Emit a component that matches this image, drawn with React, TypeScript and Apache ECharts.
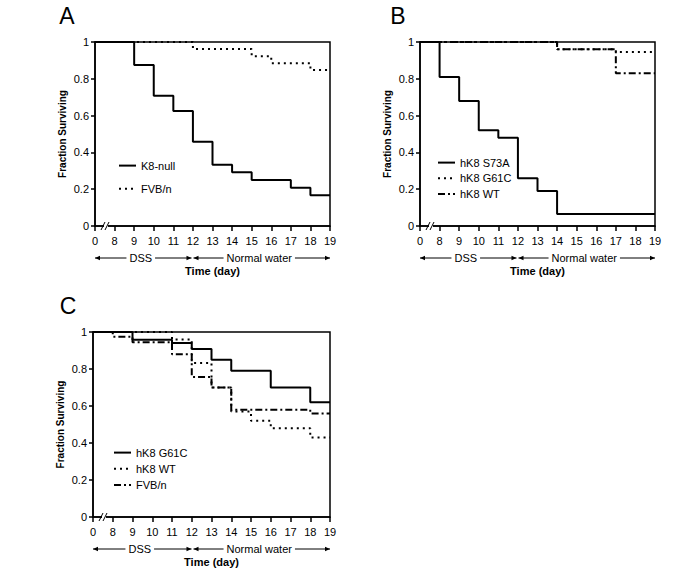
import React, { useEffect, useRef } from 'react';
import * as echarts from 'echarts';

const dayLabels = ['0', '8', '9', '10', '11', '12', '13', '14', '15', '16', '17', '18', '19'];

// Panel A
const aK8NullDays = ['0', '9', '10', '11', '12', '13', '14', '15', '17', '18', '19'];
const aK8NullSurv = [1, 0.875, 0.708, 0.625, 0.458, 0.333, 0.292, 0.25, 0.208, 0.167, 0.167];
const aFvbDays = ['0', '12', '15', '16', '18', '19'];
const aFvbSurv = [1, 0.962, 0.923, 0.885, 0.848, 0.848];

// Panel B
const bS73aDays = ['0', '8', '9', '10', '11', '12', '13', '14', '19'];
const bS73aSurv = [1, 0.81, 0.68, 0.52, 0.48, 0.26, 0.19, 0.065, 0.065];
const bG61cDays = ['0', '14', '17', '19'];
const bG61cSurv = [1, 0.96, 0.945, 0.945];
const bWtDays = ['0', '14', '17', '19'];
const bWtSurv = [1, 0.96, 0.83, 0.83];

// Panel C
const cG61cDays = ['0', '9', '11', '12', '13', '14', '16', '18', '19'];
const cG61cSurv = [1, 0.958, 0.94, 0.908, 0.85, 0.79, 0.7, 0.62, 0.62];
const cWtDays = ['0', '11', '12', '13', '14', '15', '16', '18', '19'];
const cWtSurv = [1, 0.96, 0.833, 0.7, 0.57, 0.52, 0.48, 0.43, 0.43];
const cFvbDays = ['0', '8', '9', '11', '12', '13', '14', '18', '19'];
const cFvbSurv = [1, 0.975, 0.944, 0.88, 0.757, 0.7, 0.58, 0.56, 0.56];

const FONT = '"Liberation Sans", Arial, sans-serif';
const DOT: number[] = [2, 4];
const DASHDOT: number[] = [7, 3, 2, 3];

const grids = [
  { left: 95, top: 42, width: 235, height: 184 },
  { left: 420, top: 42, width: 235, height: 184 },
  { left: 93, top: 332, width: 237, height: 185 },
];

function pairs(days: string[], surv: number[]) {
  return days.map((d, i) => [d, surv[i]]);
}

function km(name: string, idx: number, days: string[], surv: number[], type: any) {
  return {
    type: 'line',
    name,
    xAxisIndex: idx,
    yAxisIndex: idx,
    step: 'end',
    symbol: 'none',
    data: pairs(days, surv),
    lineStyle: { color: '#000', width: 2, type },
    itemStyle: { color: '#000' },
    z: 3,
  };
}

function arrowRow(x0: number, x12: number, x19: number, y: number) {
  const els: any[] = [];
  const line = (a: number, b: number) => ({
    type: 'line', z: 100,
    shape: { x1: a, y1: y, x2: b, y2: y },
    style: { stroke: '#000', lineWidth: 1 },
  });
  const head = (tip: number, dir: number) => ({
    type: 'polygon', z: 100,
    shape: { points: [[tip, y], [tip - dir * 5, y - 2.2], [tip - dir * 5, y + 2.2]] },
    style: { fill: '#000' },
  });
  const label = (text: string, cx: number) => ({
    type: 'text', z: 101,
    x: cx, y,
    style: {
      text, fill: '#000', font: `11px ${FONT}`, align: 'center', verticalAlign: 'middle',
      backgroundColor: '#fff', padding: [0, 3],
    },
  });
  els.push(line(x0, x12 - 1));
  els.push(line(x12 + 1, x19));
  els.push(head(x0, -1));
  els.push(head(x12 - 1, 1));
  els.push(head(x12 + 1, -1));
  els.push(head(x19, 1));
  els.push(label('DSS', (x0 + x12) / 2 - 3));
  els.push(label('Normal water', (x12 + x19) / 2 - 2));
  return els;
}

function axisBreak(x: number, y: number) {
  return [
    { type: 'rect', z: 100, shape: { x: x + 1, y: y - 2, width: 4, height: 4 }, style: { fill: '#fff' } },
    { type: 'line', z: 101, shape: { x1: x - 2, y1: y + 4, x2: x + 2, y2: y - 4 }, style: { stroke: '#000', lineWidth: 1 } },
    { type: 'line', z: 101, shape: { x1: x + 2, y1: y + 4, x2: x + 6, y2: y - 4 }, style: { stroke: '#000', lineWidth: 1 } },
  ];
}

function panelLetter(text: string, x: number, y: number) {
  return {
    type: 'text', z: 100, x, y,
    style: { text, fill: '#000', font: `23px ${FONT}`, align: 'center', verticalAlign: 'middle' },
  };
}

export default function App() {
  const ref = useRef<HTMLDivElement>(null);
  useEffect(() => {
    if (!ref.current) return;
    const chart = echarts.init(ref.current, undefined, { renderer: 'svg' });
    const xAxes = grids.map((_, i) => ({
      type: 'category',
      gridIndex: i,
      data: dayLabels,
      boundaryGap: false,
      axisLine: { lineStyle: { color: '#000', width: 1.5 } },
      axisTick: { show: true, interval: 0, length: 5, lineStyle: { color: '#000', width: 1.5 } },
      axisLabel: { interval: 0, color: '#000', fontSize: 11, fontFamily: FONT, margin: 9 },
      splitLine: { show: false },
      name: 'Time (day)',
      nameLocation: 'middle',
      nameGap: 39,
      nameTextStyle: { color: '#000', fontSize: 11, fontWeight: 'bold', fontFamily: FONT },
    }));
    const yAxes = grids.map((_, i) => ({
      type: 'value',
      gridIndex: i,
      min: 0,
      max: 1,
      interval: 0.2,
      axisLine: { show: true, lineStyle: { color: '#000', width: 1.5 } },
      axisTick: { show: true, length: 4, lineStyle: { color: '#000', width: 1.5 } },
      axisLabel: { color: '#000', fontSize: 11, fontFamily: FONT, margin: 6 },
      splitLine: { show: false },
      name: 'Fraction Surviving',
      nameLocation: 'middle',
      nameRotate: 90,
      nameGap: 28,
      nameTextStyle: { color: '#000', fontSize: 10, fontWeight: 'bold', fontFamily: FONT },
    }));
    const legendCommon = {
      orient: 'vertical',
      itemWidth: 17,
      itemHeight: 14,
      selectedMode: false,
      formatter: (n: string) => n.trim(),
      itemStyle: { color: 'rgba(0,0,0,0)', borderColor: 'rgba(0,0,0,0)', borderWidth: 0 },
      textStyle: { color: '#000', fontSize: 11, fontFamily: FONT },
    };
    chart.setOption({
      animation: false,
      backgroundColor: '#fff',
      grid: grids.map((g) => ({ ...g, show: true, borderColor: '#000', borderWidth: 1.5, backgroundColor: 'transparent' })),
      xAxis: xAxes,
      yAxis: yAxes,
      legend: [
        { ...legendCommon, left: 113, top: 155, itemGap: 12, data: ['K8-null', 'FVB/n'] },
        { ...legendCommon, left: 432, top: 152, itemGap: 4.5, data: ['hK8 S73A', 'hK8 G61C', 'hK8 WT'] },
        { ...legendCommon, left: 108, top: 442, itemGap: 5, data: ['hK8 G61C ', 'hK8 WT ', 'FVB/n '] },
      ],
      series: [
        km('K8-null', 0, aK8NullDays, aK8NullSurv, 'solid'),
        km('FVB/n', 0, aFvbDays, aFvbSurv, DOT),
        km('hK8 S73A', 1, bS73aDays, bS73aSurv, 'solid'),
        km('hK8 G61C', 1, bG61cDays, bG61cSurv, DOT),
        km('hK8 WT', 1, bWtDays, bWtSurv, DASHDOT),
        km('hK8 G61C ', 2, cG61cDays, cG61cSurv, 'solid'),
        km('hK8 WT ', 2, cWtDays, cWtSurv, DOT),
        km('FVB/n ', 2, cFvbDays, cFvbSurv, DASHDOT),
      ],
      graphic: [
        panelLetter('A', 67, 16),
        panelLetter('B', 398, 16),
        panelLetter('C', 68, 306),
        ...axisBreak(103, 226),
        ...axisBreak(428, 226),
        ...axisBreak(101, 517),
        ...arrowRow(95, 192.5, 330, 258),
        ...arrowRow(420, 517.5, 655, 258),
        ...arrowRow(93, 192.5, 330, 549),
      ],
    });
    return () => chart.dispose();
  }, []);
  return <div ref={ref} style={{ position: 'absolute', left: 0, top: 0, width: 677, height: 576 }} />;
}
